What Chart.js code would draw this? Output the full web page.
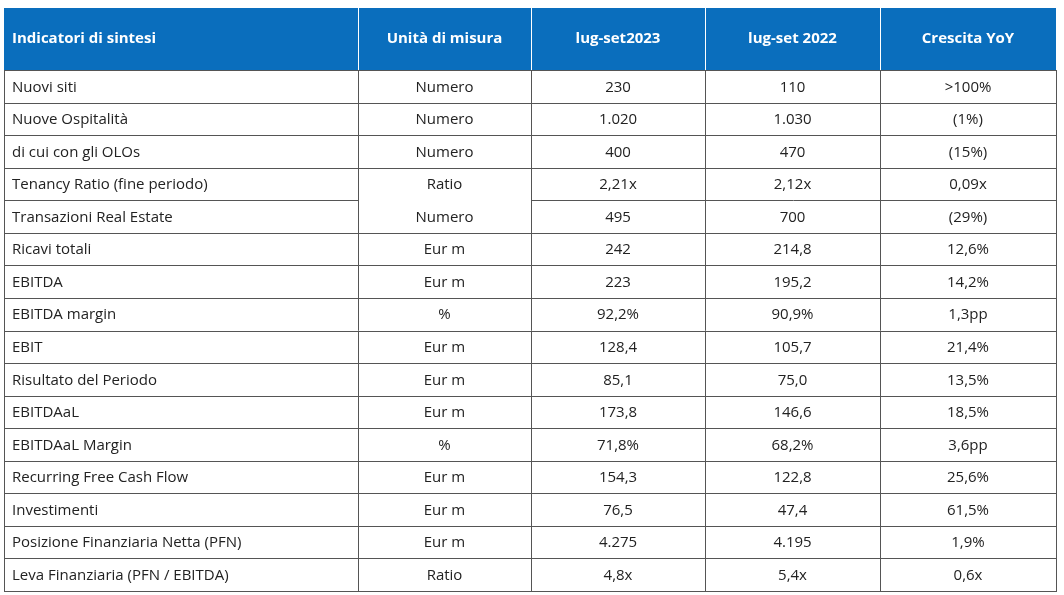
<!DOCTYPE html>
<html>
<head>
<meta charset="utf-8">
<script src="https://cdn.jsdelivr.net/npm/chart.js@4"></script>
<style>
  html, body { margin: 0; padding: 0; background: #fff; }
  canvas { display: block; }
</style>
</head>
<body>
<canvas id="table" width="1064" height="595"></canvas>
<script>
// ================= DATA =================
const headers = ["Indicatori di sintesi", "Unità di misura", "lug-set2023", "lug-set 2022", "Crescita YoY"];
const indicators = [
  "Nuovi siti", "Nuove Ospitalità", "di cui con gli OLOs", "Tenancy Ratio (fine periodo)",
  "Transazioni Real Estate", "Ricavi totali", "EBITDA", "EBITDA margin", "EBIT",
  "Risultato del Periodo", "EBITDAaL", "EBITDAaL Margin", "Recurring Free Cash Flow",
  "Investimenti", "Posizione Finanziaria Netta (PFN)", "Leva Finanziaria (PFN / EBITDA)"
];
const units = ["Numero", "Numero", "Numero", "Ratio", "Numero", "Eur m", "Eur m", "%", "Eur m",
  "Eur m", "Eur m", "%", "Eur m", "Eur m", "Eur m", "Ratio"];
const values2023 = ["230", "1.020", "400", "2,21x", "495", "242", "223", "92,2%", "128,4",
  "85,1", "173,8", "71,8%", "154,3", "76,5", "4.275", "4,8x"];
const values2022 = ["110", "1.030", "470", "2,12x", "700", "214,8", "195,2", "90,9%", "105,7",
  "75,0", "146,6", "68,2%", "122,8", "47,4", "4.195", "5,4x"];
const growth = [">100%", "(1%)", "(15%)", "0,09x", "(29%)", "12,6%", "14,2%", "1,3pp", "21,4%",
  "13,5%", "18,5%", "3,6pp", "25,6%", "61,5%", "1,9%", "0,6x"];

// ================= TABLE PLUGIN =================
const colEdges = [4, 358, 531, 705, 880, 1056];
const FONT = "'Open Sans', 'Noto Sans', sans-serif";

const tablePlugin = {
  id: "tableCells",
  afterDraw(chart) {
    const ctx = chart.ctx;
    const area = chart.chartArea;
    const y = chart.scales.y;
    const rowH = (area.bottom - area.top) / indicators.length;
    const cols = [indicators, units, values2023, values2022, growth];

    ctx.save();
    // header
    ctx.fillStyle = "#0A6EBD";
    ctx.fillRect(colEdges[0], 8, colEdges[5] - colEdges[0], area.top - 8);
    ctx.strokeStyle = "#ffffff";
    ctx.lineWidth = 1;
    for (let c = 1; c < 5; c++) {
      ctx.beginPath();
      ctx.moveTo(colEdges[c] + 0.5, 8);
      ctx.lineTo(colEdges[c] + 0.5, area.top);
      ctx.stroke();
    }
    ctx.font = "bold 15px " + FONT;
    ctx.fillStyle = "#ffffff";
    ctx.textBaseline = "middle";
    headers.forEach((h, c) => {
      const hy = (8 + area.top) / 2;
      if (c === 0) { ctx.textAlign = "left"; ctx.fillText(h, colEdges[0] + 8, hy); }
      else { ctx.textAlign = "center"; ctx.fillText(h, (colEdges[c] + colEdges[c + 1]) / 2, hy); }
    });

    // grid
    ctx.strokeStyle = "#555555";
    ctx.lineWidth = 1;
    ctx.strokeRect(colEdges[0] + 0.5, area.top + 0.5, colEdges[5] - colEdges[0], area.bottom - area.top);
    for (let c = 1; c < 5; c++) {
      ctx.beginPath();
      ctx.moveTo(colEdges[c] + 0.5, area.top);
      ctx.lineTo(colEdges[c] + 0.5, area.bottom);
      ctx.stroke();
    }
    for (let i = 0; i < indicators.length - 1; i++) {
      const ly = Math.round(y.getPixelForValue(i) + rowH / 2) + 0.5;
      ctx.beginPath();
      if (i === 3) {
        // unit cell spans Tenancy Ratio / Transazioni rows
        ctx.moveTo(colEdges[0], ly); ctx.lineTo(colEdges[1], ly);
        ctx.moveTo(colEdges[2], ly); ctx.lineTo(colEdges[5], ly);
      } else {
        ctx.moveTo(colEdges[0], ly); ctx.lineTo(colEdges[5], ly);
      }
      ctx.stroke();
    }

    // cells
    ctx.font = "15px " + FONT;
    ctx.fillStyle = "#222222";
    indicators.forEach((_, i) => {
      const cy = y.getPixelForValue(i) + 1;
      cols.forEach((col, c) => {
        if (c === 0) { ctx.textAlign = "left"; ctx.fillText(col[i], colEdges[0] + 8, cy); }
        else { ctx.textAlign = "center"; ctx.fillText(col[i], (colEdges[c] + colEdges[c + 1]) / 2, cy); }
      });
    });
    ctx.restore();
  }
};

// ================= CHART =================
new Chart(document.getElementById("table"), {
  type: "bar",
  data: {
    labels: indicators,
    datasets: [{ data: indicators.map(() => 0), backgroundColor: "transparent" }]
  },
  options: {
    indexAxis: "y",
    responsive: false,
    animation: false,
    layout: { padding: { left: 4, right: 8, top: 70, bottom: 4 } },
    plugins: { legend: { display: false }, tooltip: { enabled: false } },
    scales: {
      x: { display: false, min: 0, max: 1 },
      y: { display: false, offset: true }
    }
  },
  plugins: [tablePlugin]
});
</script>
</body>
</html>
